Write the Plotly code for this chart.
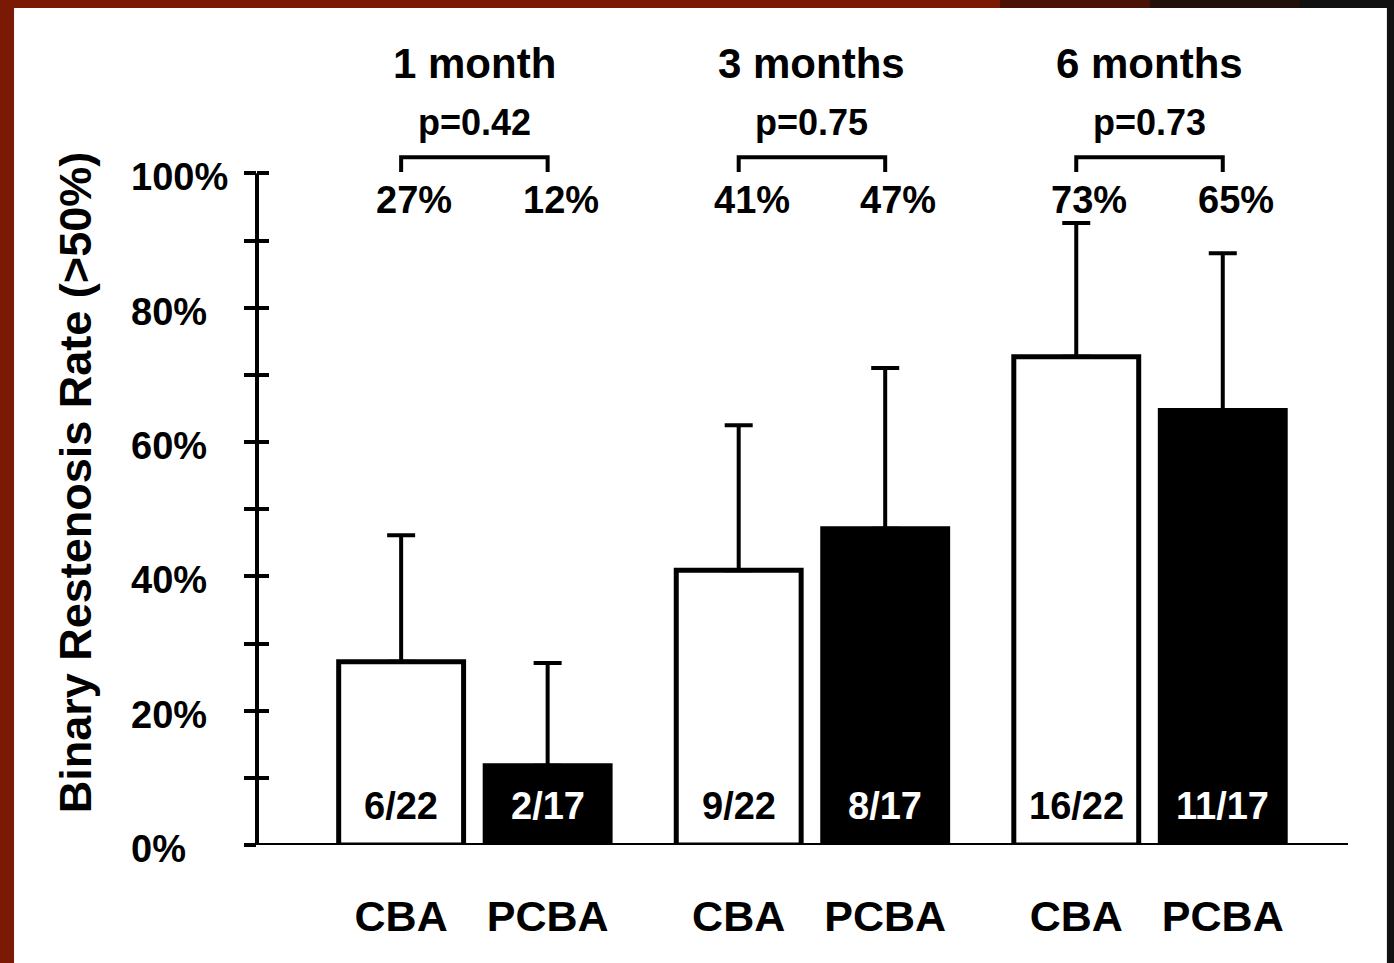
import plotly.graph_objects as go

# ---- data ----
groups = ["1 month", "3 months", "6 months"]
p_values = ["p=0.42", "p=0.75", "p=0.73"]
treatments = ["CBA", "PCBA"]
cba_rate = [27.3, 40.9, 72.7]
pcba_rate = [11.8, 47.1, 64.7]
cba_err = [18.8, 21.6, 19.9]
pcba_err = [15.3, 23.9, 23.4]
cba_pct_label = ["27%", "41%", "73%"]
pcba_pct_label = ["12%", "47%", "65%"]
cba_frac = ["6/22", "9/22", "16/22"]
pcba_frac = ["2/17", "8/17", "11/17"]
y_tick_vals = [0, 10, 20, 30, 40, 50, 60, 70, 80, 90, 100]
y_tick_labels = ["0%", "", "20%", "", "40%", "", "60%", "", "80%", "", "100%"]
y_title = "Binary Restenosis Rate (>50%)"

# ---- layout constants ----
FONT = "Liberation Sans, Arial, sans-serif"
OFF = 0.217
BAR_W = 0.37
idx = list(range(len(groups)))
x_cba = [i - OFF for i in idx]
x_pcba = [i + OFF for i in idx]

fig = go.Figure()
fig.add_trace(go.Bar(
    x=x_cba, y=cba_rate, width=BAR_W, name="CBA",
    marker=dict(color="white", line=dict(color="black", width=5)),
    error_y=dict(type="data", symmetric=False, array=cba_err,
                 arrayminus=[0] * 3, color="black", thickness=4, width=14),
    showlegend=False))
fig.add_trace(go.Bar(
    x=x_pcba, y=pcba_rate, width=BAR_W, name="PCBA",
    marker=dict(color="black", line=dict(color="black", width=5)),
    error_y=dict(type="data", symmetric=False, array=pcba_err,
                 arrayminus=[0] * 3, color="black", thickness=4, width=14),
    showlegend=False))
# invisible trace to activate overlaying y2 (inside ticks)
fig.add_trace(go.Scatter(x=[x_cba[0]], y=[0], yaxis="y2", mode="markers",
                         marker=dict(opacity=0), showlegend=False, hoverinfo="skip"))

ann = []
bold = dict(family=FONT, color="black", weight="bold")
for i in idx:
    ann.append(dict(x=i, y=116.4, xref="x", yref="y", text=groups[i], showarrow=False,
                    font=dict(size=42, **bold)))
    ann.append(dict(x=(x_cba[i] + x_pcba[i]) / 2, y=107.5, xref="x", yref="y",
                    text=p_values[i], showarrow=False, font=dict(size=36, **bold)))
    ann.append(dict(x=x_cba[i], y=96.0, xref="x", yref="y", text=cba_pct_label[i],
                    showarrow=False, xshift=13, font=dict(size=38, **bold)))
    ann.append(dict(x=x_pcba[i], y=96.0, xref="x", yref="y", text=pcba_pct_label[i],
                    showarrow=False, xshift=13, font=dict(size=38, **bold)))
    ann.append(dict(x=x_cba[i], y=5.8, xref="x", yref="y", text=cba_frac[i],
                    showarrow=False, font=dict(size=38, family=FONT, color="black", weight="bold")))
    ann.append(dict(x=x_pcba[i], y=5.8, xref="x", yref="y", text=pcba_frac[i],
                    showarrow=False, font=dict(size=38, family=FONT, color="white", weight="bold")))
for v, t in zip(y_tick_vals, y_tick_labels):
    if t:
        ann.append(dict(x=-0.1174, y=v, xref="paper", yref="y", text=t, showarrow=False,
                        xanchor="left", yshift=-4, font=dict(size=38, **bold)))
ann.append(dict(x=-0.1668, y=54.0, xref="paper", yref="y", text=y_title, showarrow=False,
                xanchor="center", yanchor="middle",
                textangle=-90, font=dict(size=45, **bold)))

shapes = [
    # frame
    dict(type="rect", xref="paper", yref="paper", x0=-0.2227, x1=1.0357, y0=-0.2, y1=1.0385,
         fillcolor="white", line=dict(width=0), layer="below"),
    dict(type="rect", xref="paper", yref="paper", x0=1.0357, x1=1.2, y0=-0.2, y1=1.1,
         fillcolor="#111111", line=dict(width=0), layer="below"),
    dict(type="rect", xref="paper", yref="paper", x0=0.681, x1=0.8185, y0=1.0385, y1=1.1,
         fillcolor="#4a1205", line=dict(width=0), layer="below"),
    dict(type="rect", xref="paper", yref="paper", x0=0.8185, x1=0.956, y0=1.0385, y1=1.1,
         fillcolor="#22100a", line=dict(width=0), layer="below"),
    dict(type="rect", xref="paper", yref="paper", x0=0.956, x1=1.2, y0=1.0385, y1=1.1,
         fillcolor="#111111", line=dict(width=0), layer="below"),
    # y axis line 0..100
    dict(type="line", xref="paper", yref="y", x0=0, x1=0, y0=0, y1=100,
         line=dict(color="black", width=4)),
    # baseline
    dict(type="line", xref="paper", yref="y", x0=-0.011, x1=1, y0=0, y1=0,
         line=dict(color="black", width=4)),
]
for i in idx:
    shapes.append(dict(type="path", xref="x", yref="y",
                       path=f"M {x_cba[i]},100.2 L {x_cba[i]},102.4 L {x_pcba[i]},102.4 L {x_pcba[i]},100.2",
                       line=dict(color="black", width=4)))

fig.update_layout(
    width=1394, height=963,
    margin=dict(l=257, r=46, t=39, b=118),
    paper_bgcolor="#7a1a04", plot_bgcolor="rgba(0,0,0,0)",
    barmode="overlay",
    xaxis=dict(range=[-0.644, 2.588], showgrid=False, zeroline=False, showline=False,
               tickvals=x_cba + x_pcba,
               ticktext=[treatments[0]] * 3 + [treatments[1]] * 3,
               ticks="", ticklabelstandoff=42,
               tickfont=dict(size=43, **bold)),
    yaxis=dict(range=[0, 120], showgrid=False, zeroline=False, showline=False,
               tickvals=y_tick_vals, ticktext=[""] * len(y_tick_vals),
               ticks="outside", ticklen=12, tickwidth=4, tickcolor="black"),
    yaxis2=dict(range=[0, 120], overlaying="y", side="left", showgrid=False,
                zeroline=False, showline=False, tickvals=y_tick_vals,
                showticklabels=False, ticks="inside", ticklen=12, tickwidth=4,
                tickcolor="black"),
    annotations=ann, shapes=shapes,
)
fig.write_html("out.html", config={"displayModeBar": False},
               post_script="document.body.style.margin='0';document.body.style.overflow='hidden';")
